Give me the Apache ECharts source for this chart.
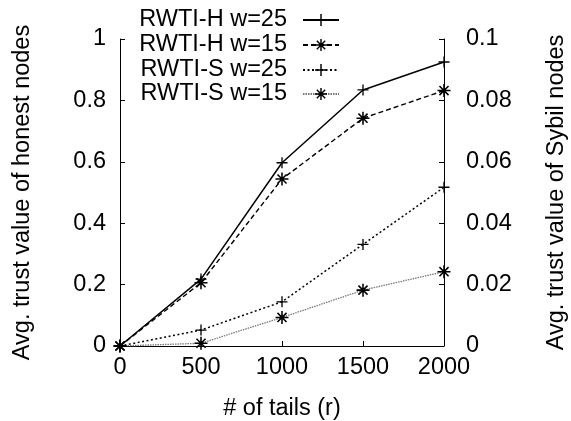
<!DOCTYPE html>
<html>
<head>
<meta charset="utf-8">
<script src="https://cdn.jsdelivr.net/npm/echarts@6/dist/echarts.min.js"></script>
<style>
html,body{margin:0;padding:0;background:#fff;}
#chart{width:571px;height:421px;}
</style>
</head>
<body>
<div id="chart"></div>
<script>
// ---- data ----
const tails = [0, 500, 1000, 1500, 2000];
const honestW25 = [0, 0.218, 0.597, 0.834, 0.925];
const honestW15 = [0, 0.206, 0.544, 0.742, 0.832];
const sybilW25 = [0, 0.0052, 0.0144, 0.0331, 0.0517];
const sybilW15 = [0, 0.0009, 0.0093, 0.0182, 0.0242];
const seriesNames = ['RWTI-H w=25', 'RWTI-H w=15', 'RWTI-S w=25', 'RWTI-S w=15'];
const xTitle = '# of tails (r)';
const yLeftTitle = 'Avg. trust value of honest nodes';
const yRightTitle = 'Avg. trust value of Sybil nodes';

const PLUS = 'path://M-10,-1.2H10V1.2H-10Z M-1.2,-10H1.2V10H-1.2Z';
const STAR = 'path://M-10,-1.2H10V1.2H-10Z M-1.2,-10H1.2V10H-1.2Z ' +
  'M-7.85,-6.15L-6.15,-7.85L7.85,6.15L6.15,7.85Z ' +
  'M-7.85,6.15L6.15,-7.85L7.85,-6.15L-6.15,7.85Z';

const FONT = 'Liberation Sans';
const FS = 23.5;

function pairs(vals) { return tails.map((t, i) => [t, vals[i]]); }

const legendTops = [8, 33, 58, 82];
const legends = seriesNames.map((n, i) => ({
  orient: 'vertical',
  right: 231,
  top: legendTops[i],
  align: 'right',
  itemWidth: 36,
  itemHeight: 15,
  itemGap: 0,
  padding: 0,
  textStyle: {fontFamily: FONT, fontSize: FS, color: '#000', lineHeight: 24, padding: [0, 11, 0, 0]},
  data: [n]
}));

const chart = echarts.init(document.getElementById('chart'), null, {renderer: 'canvas'});
chart.setOption({
  animation: false,
  backgroundColor: '#fff',
  textStyle: {fontFamily: FONT, color: '#000'},
  grid: {left: 120, right: 127, top: 39, bottom: 75, containLabel: false, outerBoundsMode: 'none'},
  legend: legends,
  xAxis: {
    type: 'value', min: 0, max: 2000, interval: 500,
    name: xTitle, nameLocation: 'middle', nameGap: 51,
    nameTextStyle: {fontFamily: FONT, fontSize: FS, color: '#000'},
    axisLine: {lineStyle: {color: '#000', width: 1}},
    axisTick: {inside: true, length: 5, lineStyle: {color: '#000'}},
    axisLabel: {fontFamily: FONT, fontSize: FS, color: '#000', margin: 10,
      formatter: v => String(v)},
    splitLine: {show: false}
  },
  yAxis: [{
    type: 'value', min: 0, max: 1, interval: 0.2, position: 'left',
    name: yLeftTitle, nameLocation: 'middle', nameGap: 85, nameRotate: 90,
    nameTextStyle: {fontFamily: FONT, fontSize: FS, color: '#000'},
    axisLine: {show: true, lineStyle: {color: '#000', width: 1}},
    axisTick: {show: true, inside: true, length: 5, lineStyle: {color: '#000'}},
    axisLabel: {fontFamily: FONT, fontSize: FS, color: '#000', margin: 14},
    splitLine: {show: false}
  }, {
    type: 'value', min: 0, max: 0.1, interval: 0.02, position: 'right',
    name: yRightTitle, nameLocation: 'middle', nameGap: 101, nameRotate: 90,
    nameTextStyle: {fontFamily: FONT, fontSize: FS, color: '#000'},
    axisLine: {show: true, lineStyle: {color: '#000', width: 1}},
    axisTick: {show: true, inside: true, length: 5, lineStyle: {color: '#000'}},
    axisLabel: {fontFamily: FONT, fontSize: FS, color: '#000', margin: 22},
    splitLine: {show: false}
  }],
  series: [{
    name: seriesNames[0], type: 'line', yAxisIndex: 0, data: pairs(honestW25),
    symbol: PLUS, symbolSize: 11,
    itemStyle: {color: '#000'},
    lineStyle: {color: '#000', width: 1.5, type: 'solid'}
  }, {
    name: seriesNames[1], type: 'line', yAxisIndex: 0, data: pairs(honestW15),
    symbol: STAR, symbolSize: 13,
    itemStyle: {color: '#000'},
    lineStyle: {color: '#000', width: 1.4, type: [5, 3]}
  }, {
    name: seriesNames[2], type: 'line', yAxisIndex: 1, data: pairs(sybilW25),
    symbol: PLUS, symbolSize: 11,
    itemStyle: {color: '#000'},
    lineStyle: {color: '#000', width: 1.5, type: [2, 2.5]}
  }, {
    name: seriesNames[3], type: 'line', yAxisIndex: 1, data: pairs(sybilW15),
    symbol: STAR, symbolSize: 13,
    itemStyle: {color: '#000'},
    lineStyle: {color: '#777', width: 1.3, type: [1.5, 1]}
  }]
});
</script>
</body>
</html>
